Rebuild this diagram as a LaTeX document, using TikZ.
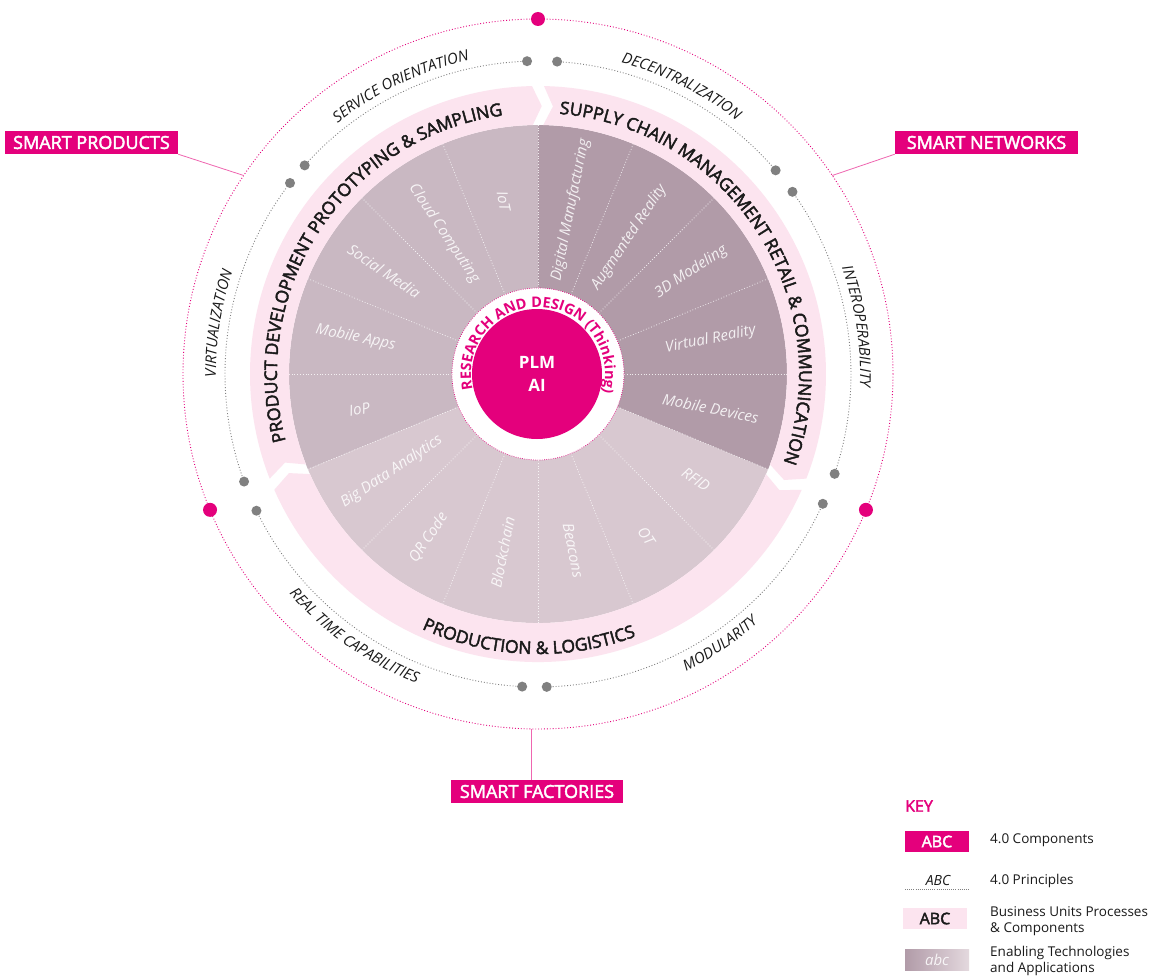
\documentclass[tikz,border=0pt]{standalone}
\usepackage{fontspec}
\setmainfont{Open Sans}
\newfontfamily\semifont{Open Sans}[FakeBold=2.5]
\usetikzlibrary{decorations.text}

\definecolor{plmmagenta}{RGB}{228,0,124}
\definecolor{bandpink}{RGB}{252,228,239}
\definecolor{secdev}{RGB}{201,184,194}
\definecolor{secsupply}{RGB}{177,155,168}
\definecolor{secprod}{RGB}{216,200,208}
\definecolor{dotgrey}{RGB}{128,128,128}
\definecolor{inkgrey}{RGB}{26,26,26}

\tikzset{
  component/.style={fill=plmmagenta, text=white, font=\semifont\fontsize{18}{20}\selectfont,
    minimum height=23pt, inner sep=0pt},
  seclabel/.style={text=white, text opacity=.85, font=\itshape\fontsize{15}{17}\selectfont, inner sep=0pt},
  secline/.style={white, line width=.8pt, dash pattern=on .8pt off 2pt, opacity=.8},
  ring/.style={plmmagenta, line width=.9pt, dash pattern=on .9pt off 2pt},
  principle/.style={dotgrey, line width=.9pt, dash pattern=on .9pt off 2pt},
  greydot/.style={fill=dotgrey, circle, minimum size=10pt, inner sep=0pt},
  magdot/.style={fill=plmmagenta, circle, minimum size=14pt, inner sep=0pt},
  keytext/.style={anchor=west, align=left, text=inkgrey, font=\fontsize{13.5}{16}\selectfont, inner sep=0pt},
  linker/.style={plmmagenta!60, line width=.8pt},
}

% one piece of the business-unit band, running clockwise from #1 to #2
\newcommand\bandpiece[2]{%
  \fill[bandpink] ({#1-1.2}:288) arc[start angle={#1-1.2}, end angle={#2+1.2}, radius=288pt]
    -- ({#2-0.8}:268) -- ({#2+1.2}:249)
    arc[start angle={#2+1.2}, end angle={#1-1.2}, radius=249pt]
    -- ({#1-3.2}:268) -- cycle;}

% text set along an arc, centred on it
\newcommand\arctext[6]{% radius, from, to, font, colour, text
  \path[decorate, decoration={text along path, text align=center, text color=#5,
    text={|#4|#6}}] (#2:#1) arc[start angle=#2, end angle=#3, radius=#1pt];}

\begin{document}
\begin{tikzpicture}[x=1pt, y=1pt]
\useasboundingbox (-538,-601) rectangle (612,374);
\fill[white] (-538,-601) rectangle (612,374);

% technology wedges
\fill[secdev] (0,0) -- (90:249) arc[start angle=90, end angle=202.5, radius=249pt] -- cycle;
\fill[secprod] (0,0) -- (202.5:249) arc[start angle=202.5, end angle=337.5, radius=249pt] -- cycle;
\fill[secsupply] (0,0) -- (-22.5:249) arc[start angle=-22.5, end angle=90, radius=249pt] -- cycle;
\foreach \i in {0,...,15}
  \draw[secline] ({90+22.5*\i}:86) -- ({90+22.5*\i}:249);

\foreach \a/\r/\t [count=\n] in {101.25/176/IoT, 123.75/169/Cloud Computing, 146.25/185/Social Media,
    168.75/186/Mobile Apps, 191.25/182/IoP, 213.75/176/Big Data Analytics, 236.25/197/QR Code,
    258.75/182/Blockchain, 281.25/180/Beacons, 303.75/195/OT, 326.25/190/RFID,
    348.75/176/Mobile Devices, 11.25/176/Virtual Reality, 33.75/184/3D Modeling,
    56.25/164/Augmented Reality, 78.75/167/Digital Manufacturing}
{
  \pgfmathsetmacro\rot{and(\a>90,\a<270) ? \a-180 : \a}
  \node[seclabel, rotate=\rot] (tech\n) at (\a:\r) {\t};
}

% business units
\bandpiece{202.5}{90}
\bandpiece{90}{-22.5}
\bandpiece{-22.5}{-157.5}
\arctext{261}{236.3}{56.3}{\semifont\fontsize{17.5}{17}\selectfont}{inkgrey}{PRODUCT DEVELOPMENT PROTOTYPING {\&} SAMPLING}
\arctext{261}{122.75}{-57.25}{\semifont\fontsize{17.5}{17}\selectfont}{inkgrey}{SUPPLY CHAIN MANAGEMENT RETAIL {\&} COMMUNICATION}
\arctext{280}{208}{328}{\semifont\fontsize{17.5}{17}\selectfont}{inkgrey}{PRODUCTION {\&} LOGISTICS}

% core
\fill[white] (0,0) circle[radius=86pt];
\draw[ring, line width=.7pt, dash pattern=on .7pt off 1.5pt] (0,0) circle[radius=86pt];
\fill[plmmagenta] (-1,0) circle[radius=65pt];
\node[text=white, align=center, font=\bfseries\fontsize{17}{23}\selectfont] (plm) at (-1,0) {PLM\\AI};
\arctext{67}{208.5}{-31.5}{\bfseries\fontsize{14.5}{15}\selectfont}{plmmagenta}{RESEARCH AND DESIGN (Thinking)}

% principles
\foreach \s/\e [count=\n] in {92/138.2, 86.5/40.6, 35.6/-18.6, -24.5/-88.4, -92.9/-154.1, 200.1/142.4}
{
  \draw[principle] (\s:313) arc[start angle=\s, end angle=\e, radius=313pt];
  \node[greydot] (p\n a) at (\s:313) {};
  \node[greydot] (p\n b) at (\e:313) {};
}
\arctext{321}{175.5}{55.5}{\itshape\fontsize{15}{15}\selectfont}{inkgrey}{SERVICE ORIENTATION}
\arctext{322}{123.5}{3.5}{\itshape\fontsize{15}{15}\selectfont}{inkgrey}{DECENTRALIZATION}
\arctext{322}{68.5}{-51.5}{\itshape\fontsize{15}{15}\selectfont}{inkgrey}{INTEROPERABILITY}
\arctext{322}{231}{111}{\itshape\fontsize{15}{15}\selectfont}{inkgrey}{VIRTUALIZATION}
\arctext{332}{-116}{4}{\itshape\fontsize{15}{15}\selectfont}{inkgrey}{MODULARITY}
\arctext{332}{175}{295}{\itshape\fontsize{15}{15}\selectfont}{inkgrey}{REAL TIME CAPABILITIES}

% components
\draw[ring] (0,0) circle[radius=355pt];
\foreach \a [count=\n] in {90,202.5,-22.5}
  \node[magdot] (m\n) at (\a:355) {};
\coordinate (spc) at (146:355);
\coordinate (snc) at (34:355);
\coordinate (sfc) at (-91:355);
\node[component, minimum width=173pt] (sp) at (-446.5,231.5) {SMART PRODUCTS};
\node[component, minimum width=183pt] (sn) at (448.5,231.5) {SMART NETWORKS};
\node[component, minimum width=172pt] (sf) at (-1,-417.5) {SMART FACTORIES};
\draw[linker] (sp.south east) -- (spc);
\draw[linker] (sn.south west) -- (snc);
\draw[linker] (sfc |- sf.north) -- (sfc);

% key
\node[anchor=west, inner sep=0pt, text=plmmagenta, font=\semifont\fontsize{16}{18}\selectfont] (key) at (367,-432) {KEY};
\node[component, minimum width=64pt, minimum height=21pt, font=\semifont\fontsize{16}{16}\selectfont] (k1) at (399,-467.5) {ABC};
\node[keytext] (k1t) at (452,-466) {4.0 Components};
\node[inner sep=0pt, text=inkgrey, font=\itshape\fontsize{14}{16}\selectfont] (k2) at (400,-506) {ABC};
\draw[principle, line width=.6pt, dash pattern=on .6pt off 1.5pt] ([xshift=-33pt,yshift=-4pt]k2.south) -- ([xshift=32pt,yshift=-4pt]k2.south);
\node[keytext] (k2t) at (452,-507) {4.0 Principles};
\node[fill=bandpink, text=inkgrey, minimum width=64pt, minimum height=21pt, inner sep=0pt,
  font=\semifont\fontsize{16}{16}\selectfont] (k3) at (397,-544.5) {ABC};
\node[keytext] (k3t) at (452,-547) {Business Units Processes\\\& Components};
\shade[left color=secsupply, right color=secprod!70!white] (367,-575) rectangle (431,-596);
\node[seclabel] (k4) at (399,-585.5) {abc};
\node[keytext] (k4t) at (452,-587) {Enabling Technologies\\and Applications};
\end{tikzpicture}
\end{document}
